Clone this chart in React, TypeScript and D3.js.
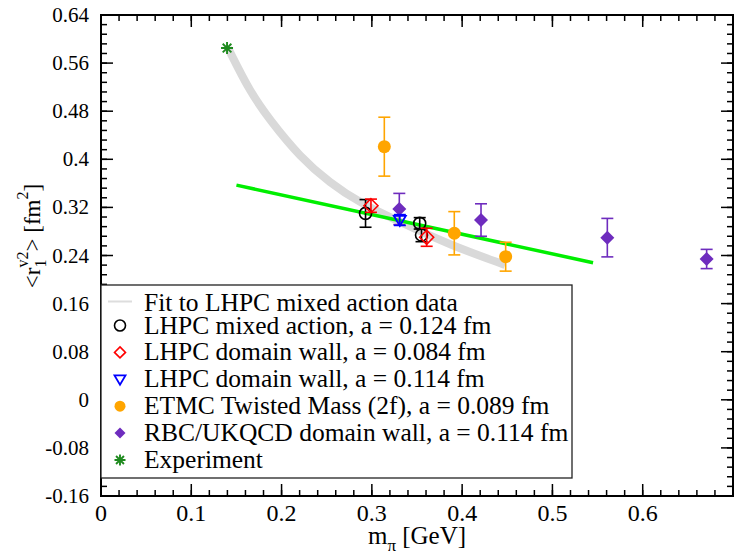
import React from "react";
import * as d3 from "d3";

// axis ticks
const xTickVals = [0, 0.1, 0.2, 0.3, 0.4, 0.5, 0.6];
const yTickVals = [-0.16, -0.08, 0, 0.08, 0.16, 0.24, 0.32, 0.4, 0.48, 0.56, 0.64];

// fit to LHPC mixed action data (grey band)
const fitMpi = [0.1407, 0.165, 0.187, 0.2204, 0.2536, 0.2869, 0.3312, 0.3865, 0.4475];
const fitR = [0.585, 0.512, 0.4654, 0.4038, 0.3606, 0.3273, 0.2957, 0.2575, 0.2243];

// green straight line
const lineMpi = [0.15, 0.545];
const lineR = [0.357, 0.228];

// LHPC mixed action, a = 0.124 fm
const mixedMpi = [0.293, 0.353, 0.355];
const mixedR = [0.31, 0.2935, 0.274];
const mixedErr = [0.023, 0.0095, 0.011];

// LHPC domain wall, a = 0.084 fm
const dw084Mpi = [0.299, 0.3607];
const dw084R = [0.3228, 0.2703];
const dw084Err = [0.011, 0.015];

// LHPC domain wall, a = 0.114 fm
const dw114Mpi = [0.331];
const dw114R = [0.299];
const dw114Err = [0.009];

// ETMC Twisted Mass (2f)
const etmcMpi = [0.3138, 0.3913, 0.4482];
const etmcR = [0.421, 0.277, 0.238];
const etmcErr = [0.049, 0.036, 0.024];

// RBC/UKQCD domain wall
const rbcMpi = [0.3304, 0.4209, 0.5608, 0.6708];
const rbcR = [0.3173, 0.299, 0.2697, 0.2342];
const rbcErr = [0.026, 0.027, 0.032, 0.016];

// experiment
const expMpi = [0.1396];
const expR = [0.585];

const legendLabels = [
  "Fit to LHPC mixed action data",
  "LHPC mixed action, a = 0.124 fm",
  "LHPC domain wall, a = 0.084 fm",
  "LHPC domain wall, a = 0.114 fm",
  "ETMC Twisted Mass (2f), a = 0.089 fm",
  "RBC/UKQCD domain wall, a = 0.114 fm",
  "Experiment",
];

const FONT = "'Liberation Serif', 'Times New Roman', serif";
const BLACK = "#000";
const RED = "#ff0000";
const BLUE = "#0000ff";
const ORANGE = "#ffa500";
const PURPLE = "#6e2cbe";
const GREEN = "#1e8a1e";

const x = d3.scaleLinear().domain([0, 0.7]).range([101, 733]);
const y = d3.scaleLinear().domain([-0.16, 0.64]).range([496, 15]);

function marker(kind: string, cx: number, cy: number, r: number, key: any) {
  if (kind === "circle")
    return <circle key={key} cx={cx} cy={cy} r={r} fill="none" stroke={BLACK} strokeWidth={1.6} />;
  if (kind === "diamond")
    return (
      <path key={key} d={`M${cx},${cy - r}L${cx + r},${cy}L${cx},${cy + r}L${cx - r},${cy}Z`}
        fill="none" stroke={RED} strokeWidth={1.6} />
    );
  if (kind === "tri")
    return (
      <path key={key} d={`M${cx - r},${cy - r * 0.7}L${cx + r},${cy - r * 0.7}L${cx},${cy + r}Z`}
        fill="none" stroke={BLUE} strokeWidth={1.8} />
    );
  if (kind === "dot")
    return <circle key={key} cx={cx} cy={cy} r={r} fill={ORANGE} />;
  if (kind === "fdiamond")
    return (
      <path key={key} d={`M${cx},${cy - r}L${cx + r},${cy}L${cx},${cy + r}L${cx - r},${cy}Z`}
        fill={PURPLE} />
    );
  // asterisk
  const d = r * 0.72;
  return (
    <path key={key}
      d={`M${cx - r},${cy}L${cx + r},${cy}M${cx},${cy - r}L${cx},${cy + r}M${cx - d},${cy - d}L${cx + d},${cy + d}M${cx - d},${cy + d}L${cx + d},${cy - d}`}
      stroke={GREEN} strokeWidth={1.9} fill="none" />
  );
}

function series(xs: number[], ys: number[], errs: number[] | null, kind: string, color: string, r: number, name: string) {
  return (
    <g key={name}>
      {errs && xs.map((v, i) => {
        const px = x(v), top = y(ys[i] + errs[i]), bot = y(ys[i] - errs[i]);
        return (
          <g key={"e" + i} stroke={color} strokeWidth={1.6}>
            <line x1={px} x2={px} y1={top} y2={bot} />
            <line x1={px - 6} x2={px + 6} y1={top} y2={top} />
            <line x1={px - 6} x2={px + 6} y1={bot} y2={bot} />
          </g>
        );
      })}
      {xs.map((v, i) => marker(kind, x(v), y(ys[i]), r, "m" + i))}
    </g>
  );
}

export default function App() {
  const minorX = d3.range(0, 0.7001, 0.02);
  const minorY = d3.range(-0.16, 0.6401, 0.016);
  const fitLine = d3.line<number>().x((d) => x(d)).y((d, i) => y(fitR[i])).curve(d3.curveBasis);
  const greenLine = d3.line<number>().x((d) => x(d)).y((d, i) => y(lineR[i]));
  const [x0, x1] = x.range();
  const [y0, y1] = y.range();

  const legendKinds = ["fit", "circle", "diamond", "tri", "dot", "fdiamond", "star"];
  const legendBase = (i: number) => (i === 0 ? 310.5 : 333.5 + (i - 1) * 26.9);

  return (
    <svg width={735} height={554} style={{ position: "absolute", left: 0, top: 0, background: "#fff" }}
      fontFamily={FONT}>
      {/* ticks */}
      <g stroke={BLACK} strokeWidth={1.5}>
        {minorX.map((v, i) => (
          <g key={"mx" + i}>
            <line x1={x(v)} x2={x(v)} y1={y0} y2={y0 - 6} />
            <line x1={x(v)} x2={x(v)} y1={y1} y2={y1 + 6} />
          </g>
        ))}
        {xTickVals.map((v, i) => (
          <g key={"Mx" + i}>
            <line x1={x(v)} x2={x(v)} y1={y0} y2={y0 - 12} />
            <line x1={x(v)} x2={x(v)} y1={y1} y2={y1 + 12} />
          </g>
        ))}
        {minorY.map((v, i) => (
          <g key={"my" + i}>
            <line x1={x0} x2={x0 + 6} y1={y(v)} y2={y(v)} />
            <line x1={x1} x2={x1 - 6} y1={y(v)} y2={y(v)} />
          </g>
        ))}
        {yTickVals.map((v, i) => (
          <g key={"My" + i}>
            <line x1={x0} x2={x0 + 12} y1={y(v)} y2={y(v)} />
            <line x1={x1} x2={x1 - 12} y1={y(v)} y2={y(v)} />
          </g>
        ))}
      </g>
      <rect x={x0} y={y1} width={x1 - x0} height={y0 - y1} fill="none" stroke={BLACK} strokeWidth={2} />

      {/* tick labels */}
      {xTickVals.map((v, i) => (
        <text key={"xl" + i} x={x(v)} y={521} textAnchor="middle" fontSize={24}>{String(v)}</text>
      ))}
      {yTickVals.map((v, i) => (
        <text key={"yl" + i} x={89} y={y(v) + 7} textAnchor="end" fontSize={21}>{String(v)}</text>
      ))}

      {/* axis titles */}
      <text x={417} y={544} textAnchor="middle" fontSize={25}>
        m<tspan fontSize={17} dy={7}>π</tspan><tspan dy={-7}> [GeV]</tspan>
      </text>
      <text transform="translate(40,236) rotate(-90)" textAnchor="middle" fontSize={23}>
        {"<r"}
        <tspan fontSize={16} dy={6}>1</tspan>
        <tspan fontSize={16} dx={-8} dy={-18}>v2</tspan>
        <tspan dy={12}>{"> [fm"}</tspan>
        <tspan fontSize={16} dy={-12}>2</tspan>
        <tspan dy={12}>]</tspan>
      </text>

      {/* fit band and line */}
      <path d={fitLine(fitMpi) || ""} fill="none" stroke="#d9d9d9" strokeWidth={8} />
      <path d={greenLine(lineMpi) || ""} fill="none" stroke="#00ee00" strokeWidth={3.5} />

      {/* data */}
      {series(etmcMpi, etmcR, etmcErr, "dot", ORANGE, 6.5, "etmc")}
      {series(rbcMpi, rbcR, rbcErr, "fdiamond", PURPLE, 7, "rbc")}
      {series(mixedMpi, mixedR, mixedErr, "circle", BLACK, 6, "mixed")}
      {series(dw084Mpi, dw084R, dw084Err, "diamond", RED, 7, "dw084")}
      {series(dw114Mpi, dw114R, dw114Err, "tri", BLUE, 6, "dw114")}
      {series(expMpi, expR, null, "star", GREEN, 6, "exp")}

      {/* legend */}
      <rect x={101} y={285} width={471} height={193} fill="#fff" stroke="#222" strokeWidth={1.3} />
      {legendLabels.map((lab, i) => {
        const b = legendBase(i);
        const k = legendKinds[i];
        return (
          <g key={"lg" + i}>
            {k === "fit"
              ? <line x1={108} x2={132} y1={b - 9} y2={b - 9} stroke="#dddddd" strokeWidth={2} />
              : marker(k, 120, b - 8, 5.5, "s")}
            <text x={144} y={b} fontSize={25.5}>{lab}</text>
          </g>
        );
      })}
    </svg>
  );
}
